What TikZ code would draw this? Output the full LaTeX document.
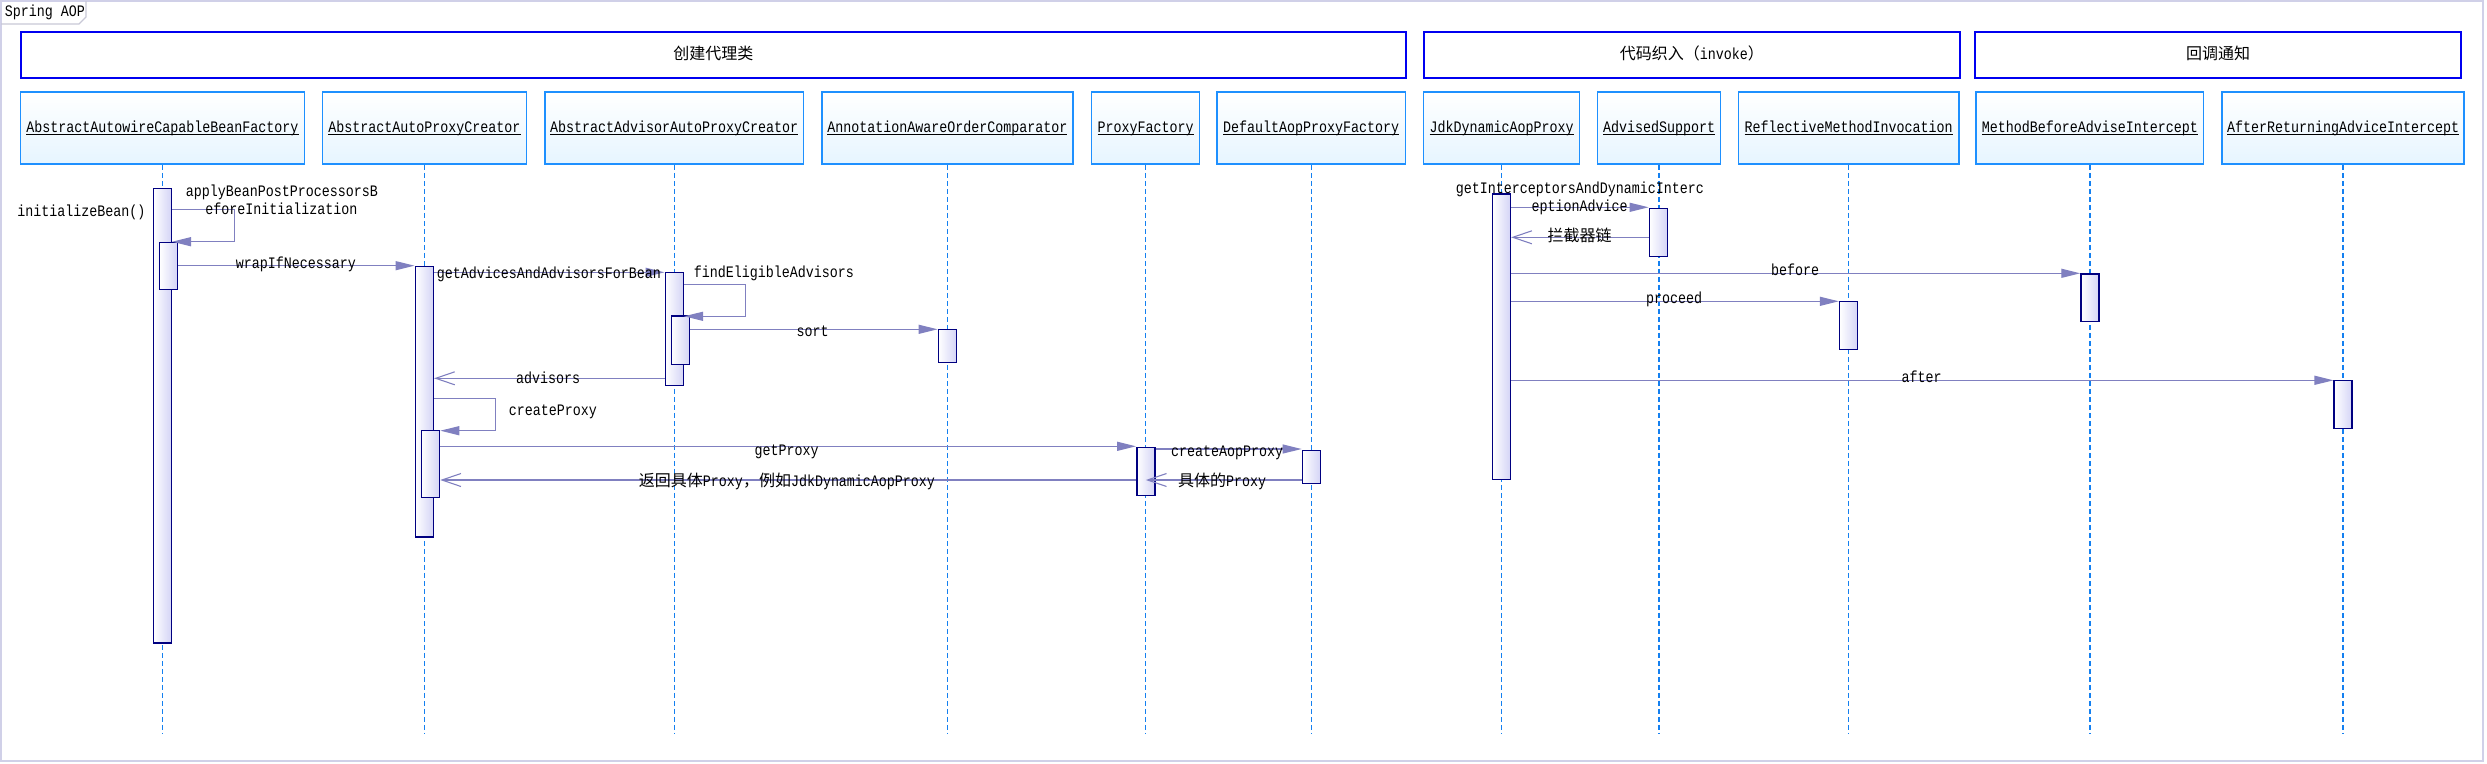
\documentclass[tikz,border=0pt]{standalone}
\usepackage{fontspec}
\setmainfont[FakeStretch=0.8333]{Liberation Mono}
\newfontfamily\cjk{Noto Sans CJK SC}
\usetikzlibrary{arrows.meta}
\definecolor{grpc}{RGB}{0,0,240}
\definecolor{clsc}{RGB}{30,144,255}
\definecolor{clsfill}{RGB}{230,245,255}
\definecolor{actc}{RGB}{0,0,128}
\definecolor{actfill}{RGB}{212,212,246}
\definecolor{msgc}{RGB}{128,128,192}
\definecolor{lifec}{RGB}{20,128,240}
\definecolor{framec}{RGB}{208,208,232}
\definecolor{tabc}{RGB}{200,200,214}
\newsavebox\ulbox
\newcommand\ulname[1]{\sbox\ulbox{#1}\rlap{\rule[-2.5pt]{\wd\ulbox}{0.8pt}}\usebox\ulbox}
\begin{document}
\begin{tikzpicture}[x=1pt,y=-1pt,
  txt/.style={inner sep=0pt, text height=11pt, text depth=3pt, font=\fontsize{16}{19}\selectfont},
  grp/.style={txt, draw=grpc, line width=1.5pt, fill=white, minimum height=46pt},
  cls/.style={txt, draw=clsc, line width=1.5pt, top color=white, bottom color=clsfill, minimum height=72pt},
  act/.style={draw=actc, line width=1.5pt, left color=white, right color=actfill, minimum width=18pt, inner sep=0pt},
  life/.style={draw=lifec, line width=1.4pt, dash pattern=on 5pt off 3pt},
  msg/.style={draw=msgc, line width=1.3pt, -{Triangle[length=19pt,width=9pt]}},
  ret/.style={draw=msgc, line width=1.1pt, -{Straight Barb[length=19pt,width=13pt]}}]
\useasboundingbox (0,0) rectangle (2487,763);
% frame and title tab
\draw[framec, line width=1.5pt] (1,1) rectangle (2483,761);
\draw[tabc, line width=1.2pt] (1,24) -- (79,24) -- (86,17) -- (86,1);
\node[txt] (title) at (45,12) {Spring AOP};
% groups
\node[grp, minimum width=1385pt] (g1) at (713.3,55) {\cjk 创建代理类};
\node[grp, minimum width=536pt] (g2) at (1691.8,55) {{\cjk 代码织入（}invoke{\cjk ）}};
\node[grp, minimum width=486pt] (g3) at (2218,55) {\cjk 回调通知};
% class boxes
\node[cls, minimum width=283.8pt] (c1) at (162.5,128) {\ulname{AbstractAutowireCapableBeanFactory}};
\node[cls, minimum width=204.3pt] (c2) at (424.5,128) {\ulname{AbstractAutoProxyCreator}};
\node[cls, minimum width=258.9pt] (c3) at (674.2,128) {\ulname{AbstractAdvisorAutoProxyCreator}};
\node[cls, minimum width=251.3pt] (c4) at (947.4,128) {\ulname{AnnotationAwareOrderComparator}};
\node[cls, minimum width=107.9pt] (c5) at (1145.6,128) {\ulname{ProxyFactory}};
\node[cls, minimum width=188.4pt] (c6) at (1311.2,128) {\ulname{DefaultAopProxyFactory}};
\node[cls, minimum width=155.9pt] (c7) at (1501.5,128) {\ulname{JdkDynamicAopProxy}};
\node[cls, minimum width=122.7pt] (c8) at (1659,128) {\ulname{AdvisedSupport}};
\node[cls, minimum width=220.5pt] (c9) at (1848.6,128) {\ulname{ReflectiveMethodInvocation}};
\node[cls, minimum width=227.5pt] (c10) at (2089.8,128) {\ulname{MethodBeforeAdviseIntercept}};
\node[cls, minimum width=242pt] (c11) at (2343,128) {\ulname{AfterReturningAdviceIntercept}};
% lifelines
\foreach \c in {c1,c2,c3,c4,c5,c6,c7,c8,c9,c10,c11}{
  \coordinate (\c e) at (\c.south |- 0,733);
  \draw[life] (\c.south) -- (\c e);
}
% activations
\node[act, minimum height=454.7pt] (A1) at (162.3,415.65) {};
\node[act, minimum height=47pt] (A1b) at (168.5,265.8) {};
\node[act, minimum height=270.7pt] (A2) at (424.3,401.65) {};
\node[act, minimum height=113pt] (A3) at (674.3,328.8) {};
\node[act, minimum height=48.3pt] (A3b) at (680.5,340.15) {};
\node[act, minimum height=66.6pt] (A2b) at (430.5,464) {};
\node[act, minimum height=33pt] (A4) at (947.4,345.8) {};
\node[act, minimum height=48pt] (A5) at (1145.8,471.3) {};
\node[act, minimum height=33pt] (A6) at (1311.4,466.8) {};
\node[act, minimum height=285.3pt] (B1) at (1501.4,336.65) {};
\node[act, minimum height=48pt] (B2) at (1658.4,232.3) {};
\node[act, minimum height=48pt] (B3) at (1848.6,325.3) {};
\node[act, minimum height=47.3pt] (B4) at (2090,297.65) {};
\node[act, minimum height=48.4pt] (B5) at (2343.2,404.5) {};
% messages
\draw[msg] (A1.east |- 0,209.3) -| (234.4,241.7) -- (A1.east |- 0,241.7);
\draw[msg] (A1b.east |- 0,265.7) -- (A2.west |- 0,265.7);
\draw[msg] (A2.east |- 0,272.3) -- (A3.west |- 0,272.3);
\draw[msg] (A3.east |- 0,284.3) -| (745.5,316.3) -- (A3.east |- 0,316.3);
\draw[msg] (A3b.east |- 0,329.3) -- (A4.west |- 0,329.3);
\draw[ret] (A3.west |- 0,378.3) -- (A2.east |- 0,378.3);
\draw[msg] (A2.east |- 0,398.3) -| (495.6,430.7) -- (A2b.east |- 0,430.7);
\draw[msg] (A2b.east |- 0,446.3) -- (A5.west |- 0,446.3);
\draw[msg] (A5.east |- 0,449) -- (A6.west |- 0,449);
\draw[ret] (A6.west |- 0,480) -- (A5.center |- 0,480);
\draw[ret] (A5.west |- 0,480) -- (A2b.east |- 0,480);
\draw[msg] (B1.east |- 0,207.3) -- (B2.west |- 0,207.3);
\draw[ret] (B2.west |- 0,237.3) -- (B1.east |- 0,237.3);
\draw[msg] (B1.east |- 0,273.3) -- (B4.west |- 0,273.3);
\draw[msg] (B1.east |- 0,301.3) -- (B3.west |- 0,301.3);
\draw[msg] (B1.east |- 0,380.3) -- (B5.west |- 0,380.3);
% labels
\node[txt] (l0) at (81.5,212) {initializeBean()};
\node[txt] (l1a) at (282,192.7) {applyBeanPostProcessorsB};
\node[txt] (l1b) at (281.5,210) {eforeInitialization};
\node[txt] (l2) at (296,264.7) {wrapIfNecessary};
\node[txt] (l3) at (548.8,274) {getAdvicesAndAdvisorsForBean};
\node[txt] (l4) at (774,273.3) {findEligibleAdvisors};
\node[txt] (l5) at (812.7,332) {sort};
\node[txt] (l6) at (548,379) {advisors};
\node[txt] (l7) at (552.8,411.3) {createProxy};
\node[txt] (l8) at (786.6,451) {getProxy};
\node[txt] (l9) at (1227,452.3) {createAopProxy};
\node[txt] (l10) at (1222,482.7) {{\cjk 具体的}Proxy};
\node[txt] (l11) at (787,482.7) {{\cjk 返回具体}Proxy{\cjk ，例如}JdkDynamicAopProxy};
\node[txt] (l12a) at (1579.9,189.3) {getInterceptorsAndDynamicInterc};
\node[txt] (l12b) at (1579.5,207.3) {eptionAdvice};
\node[txt] (l13) at (1579.5,237) {\cjk 拦截器链};
\node[txt] (l14) at (1795,271.7) {before};
\node[txt] (l15) at (1674,299.3) {proceed};
\node[txt] (l16) at (1921.5,378.7) {after};
\end{tikzpicture}
\end{document}
